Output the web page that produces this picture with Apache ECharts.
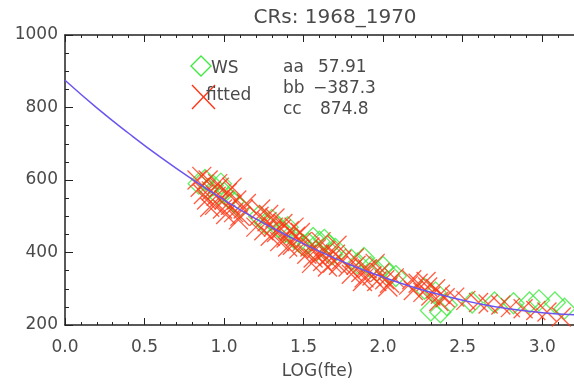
<!DOCTYPE html>
<html><head><meta charset="utf-8">
<script src="https://cdn.jsdelivr.net/npm/echarts@6/dist/echarts.min.js"></script>
<style>html,body{margin:0;padding:0;background:#fff}#c{width:574px;height:390px}</style>
</head><body><div id="c"></div>
<script>
const titleText = 'CRs: 1968_1970';
const xName = 'LOG(fte)';
const coefLabels = ['aa', 'bb', 'cc'];
const coefValues = ['57.91', '\u2212387.3', '874.8'];

const wsPoints = [
  [0.84,590],[0.88,600],[0.90,575],[0.93,585],[0.96,560],[0.98,590],[1.00,565],[1.03,550],[1.06,540],[1.10,525],
  [1.22,500],[1.26,480],[1.30,490],[1.34,470],[1.38,455],[1.40,470],[1.44,440],[1.47,430],[1.50,420],
  [1.53,425],[1.56,440],[1.60,430],[1.63,435],[1.66,420],[1.70,410],[1.58,405],[1.68,395],
  [1.80,380],[1.84,370],[1.88,385],[1.92,360],[1.96,350],[2.00,360],[2.04,340],[2.08,335],
  [2.26,300],[2.30,240],[2.33,290],[2.36,235],[2.40,255],
  [2.56,262],[2.70,262],[2.82,260],[2.92,262],[2.98,268],[3.08,262],[3.14,245]
];
const fittedPoints = [
  [0.83,600],[0.85,580],[0.86,610],[0.87,560],[0.89,545],[0.90,600],[0.91,525],[0.92,570],[0.94,530],[0.95,555],
  [0.96,590],[0.97,580],[0.99,520],[1.00,545],[1.01,505],[1.02,565],[1.04,530],[1.05,580],[1.06,510],[1.08,545],
  [1.09,490],[1.10,500],[1.12,520],[1.14,535],
  [1.20,470],[1.22,500],[1.23,520],[1.25,460],[1.27,485],[1.28,505],[1.29,445],[1.31,470],[1.32,495],[1.33,455],
  [1.35,430],[1.36,465],[1.37,480],[1.39,440],[1.40,415],[1.41,460],[1.43,420],[1.44,470],[1.45,445],[1.47,410],
  [1.48,455],[1.49,430],
  [1.52,395],[1.54,415],[1.55,370],[1.56,385],[1.58,410],[1.60,395],[1.61,430],[1.62,375],[1.64,405],[1.65,360],
  [1.66,390],[1.68,370],[1.70,395],[1.71,420],[1.72,365],[1.74,380],
  [1.78,360],[1.80,340],[1.82,385],[1.83,365],[1.86,345],[1.87,320],[1.88,330],[1.90,355],[1.93,335],[1.95,370],
  [1.96,320],[1.98,345],[2.01,325],[2.03,305],[2.04,315],[2.07,330],
  [2.16,310],[2.18,325],[2.19,295],[2.22,315],[2.25,290],[2.27,320],[2.28,305],[2.30,280],[2.33,300],[2.35,265],
  [2.36,285],[2.39,275],
  [2.45,277],[2.52,268],[2.60,262],[2.66,258],[2.74,255],[2.80,248],[2.88,245],[2.96,240],[3.03,236],[3.12,222]
];
const curvePoints = [
  [0,875],[0.2,799],[0.4,729],[0.6,663],[0.8,602],[1.0,545],[1.2,493],[1.4,446],[1.6,403],
  [1.8,365],[2.0,332],[2.2,303],[2.4,279],[2.6,259],[2.8,244],[3.0,234],[3.2,228]
];

const FONT = 'DejaVu Sans';
const TXT = '#4a4a4a';
const GREEN = '#3fe83f';
const RED = '#ff3414';
const XPATH = 'path://M0,0L10,10M10,0L0,10';
const axisLine = {show:true, lineStyle:{color:'#222', width:1.5}};
const tf = '17px "DejaVu Sans"';
const txt = (x, y, s) => ({type:'text', x:x, y:y,
  style:{text:s, font:tf, fill:TXT, textAlign:'left', textVerticalAlign:'middle', verticalAlign:'middle'}});

const chart = echarts.init(document.getElementById('c'));
chart.setOption({
  animation:false,
  textStyle:{fontFamily:FONT},
  title:{text:titleText, left:330, top:3, textAlign:'center',
    textStyle:{fontFamily:FONT, fontSize:20, fontWeight:'normal', color:TXT}},
  grid:{left:65, top:35, width:518, height:290, containLabel:false},
  xAxis:[{
    type:'value', min:0, max:3.2, interval:0.5, position:'bottom',
    name:xName, nameLocation:'middle', nameGap:38,
    nameTextStyle:{fontFamily:FONT, fontSize:17, color:TXT, padding:[0,4,0,0]},
    axisLine:axisLine,
    axisTick:{show:true, inside:true, length:7, lineStyle:{color:'#222'}},
    minorTick:{show:true, splitNumber:5, length:3, lineStyle:{color:'#222'}},
    axisLabel:{fontFamily:FONT, fontSize:17, color:TXT, margin:14,
      formatter:v=>v.toFixed(1), showMaxLabel:false},
    splitLine:{show:false}
  },{
    type:'value', min:0, max:3.2, interval:0.5, position:'top',
    axisLine:axisLine,
    axisTick:{show:true, inside:true, length:7, lineStyle:{color:'#222'}},
    minorTick:{show:true, splitNumber:5, length:3, lineStyle:{color:'#222'}},
    axisLabel:{show:false}, splitLine:{show:false}
  }],
  yAxis:[{
    type:'value', min:200, max:1000, interval:200,
    axisLine:axisLine,
    axisTick:{show:true, inside:true, length:8, lineStyle:{color:'#222'}},
    minorTick:{show:true, splitNumber:4, length:4, lineStyle:{color:'#222'}},
    axisLabel:{fontFamily:FONT, fontSize:17, color:TXT, margin:7, formatter:v=>String(v)},
    splitLine:{show:false}
  }],
  series:[
    {type:'scatter', name:'WS', data:wsPoints, symbol:'diamond', symbolSize:[21,21],
      itemStyle:{color:'rgba(0,0,0,0)', borderColor:GREEN, borderWidth:1.3}, z:2},
    {type:'scatter', name:'fitted', data:fittedPoints, symbol:XPATH, symbolSize:[19,19],
      itemStyle:{color:'rgba(0,0,0,0)', borderColor:RED, borderWidth:1.3}, z:3},
    {type:'line', name:'curve', data:curvePoints, smooth:true, symbol:'none',
      lineStyle:{color:'#6a55f0', width:1.5}, z:4}
  ],
  graphic:[
    {type:'polygon', shape:{points:[[201,56],[211,66],[201,76],[191,66]]},
      style:{fill:'none', stroke:GREEN, lineWidth:1.4}},
    {type:'polyline', shape:{points:[[192,85],[215,109]]}, style:{stroke:RED, lineWidth:1.4, fill:'none'}},
    {type:'polyline', shape:{points:[[215,85],[192,109]]}, style:{stroke:RED, lineWidth:1.4, fill:'none'}},
    txt(211, 69, 'WS'),
    txt(206, 96, 'fitted'),
    txt(283, 68, coefLabels[0]),
    txt(283, 89, coefLabels[1]),
    txt(283, 110, coefLabels[2]),
    txt(318, 68, coefValues[0]),
    txt(313, 89, coefValues[1]),
    txt(320, 110, coefValues[2])
  ]
});
</script></body></html>
